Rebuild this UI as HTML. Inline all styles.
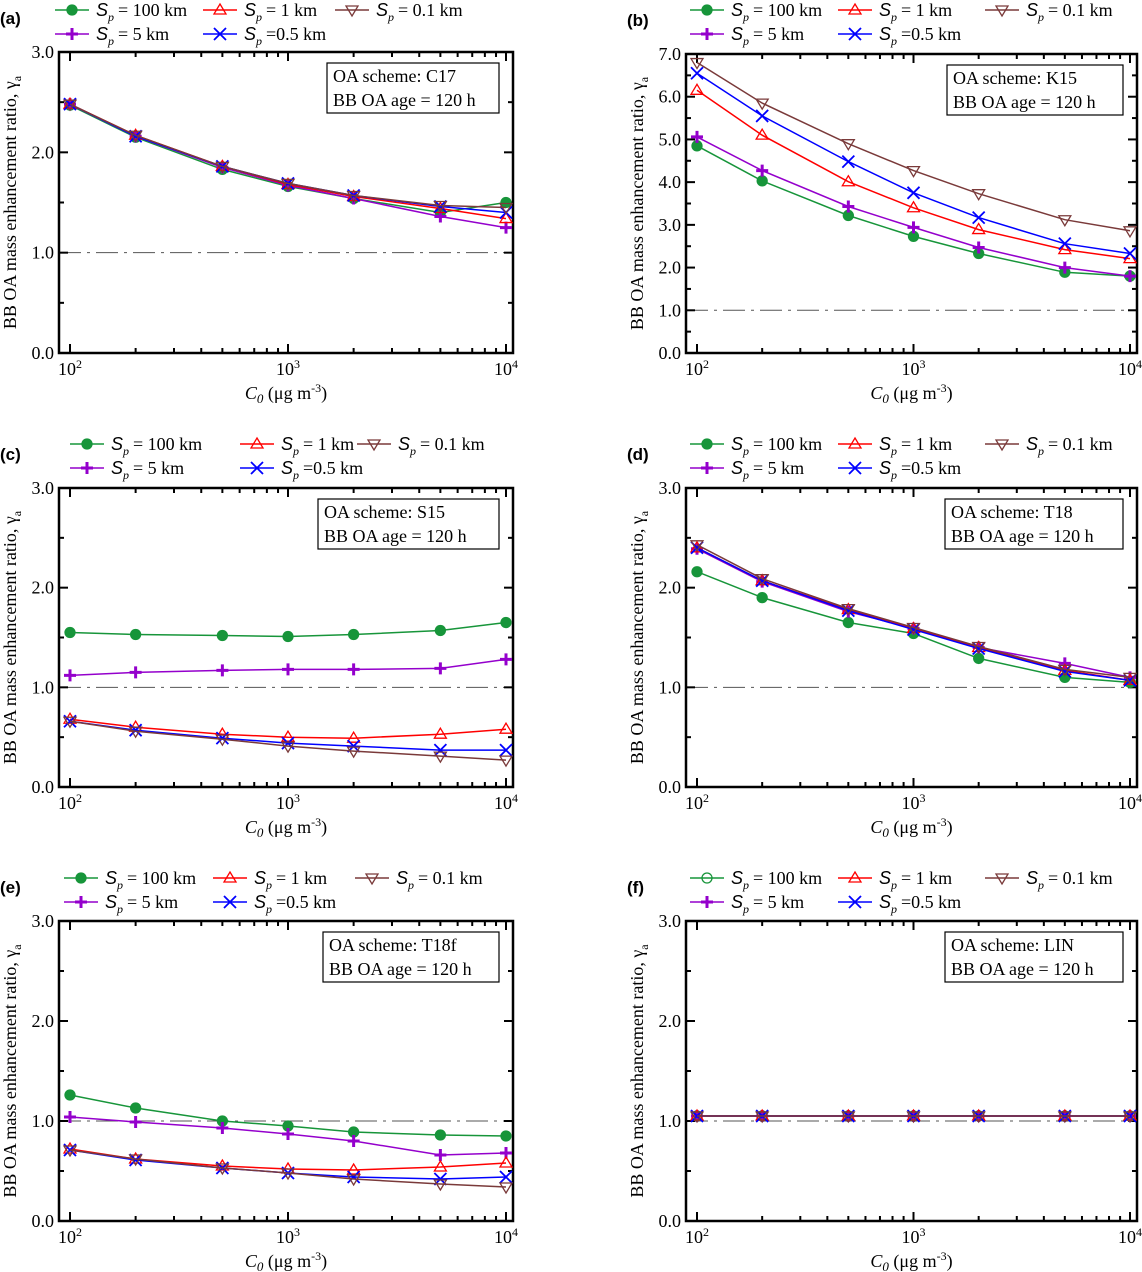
<!DOCTYPE html>
<html><head><meta charset="utf-8">
<style>
body{margin:0;background:#fff;}
svg{display:block;font-family:"Liberation Serif",serif;}
.pl{font-family:"Liberation Sans",sans-serif;font-weight:bold;font-size:17px;}
</style></head>
<body>
<svg id="chart" width="1142" height="1272" viewBox="0 0 1142 1272" xmlns="http://www.w3.org/2000/svg"></svg>
<script>
const xValues=[100,200,500,1000,2000,5000,10000];
const seriesNames=["Sp100","Sp5","Sp1","Sp05","Sp01"];
const aS100=[2.47,2.15,1.83,1.66,1.54,1.40,1.50];
const aS5=[2.48,2.16,1.85,1.67,1.54,1.36,1.25];
const aS1=[2.48,2.17,1.86,1.68,1.56,1.44,1.34];
const aS05=[2.48,2.16,1.86,1.69,1.57,1.46,1.40];
const aS01=[2.48,2.17,1.86,1.69,1.57,1.47,1.45];
const bS100=[4.85,4.03,3.22,2.73,2.33,1.89,1.80];
const bS5=[5.06,4.27,3.43,2.94,2.47,2.00,1.80];
const bS1=[6.15,5.10,4.01,3.40,2.89,2.42,2.21];
const bS05=[6.55,5.55,4.48,3.75,3.17,2.56,2.33];
const bS01=[6.80,5.85,4.90,4.27,3.73,3.12,2.86];
const cS100=[1.55,1.53,1.52,1.51,1.53,1.57,1.65];
const cS5=[1.12,1.15,1.17,1.18,1.18,1.19,1.28];
const cS1=[0.68,0.60,0.53,0.50,0.49,0.53,0.58];
const cS05=[0.66,0.57,0.49,0.44,0.41,0.37,0.37];
const cS01=[0.66,0.56,0.48,0.41,0.36,0.31,0.27];
const dS100=[2.16,1.90,1.65,1.54,1.29,1.10,1.05];
const dS5=[2.39,2.06,1.76,1.59,1.40,1.24,1.10];
const dS1=[2.40,2.07,1.78,1.59,1.40,1.17,1.07];
const dS05=[2.40,2.07,1.77,1.58,1.39,1.16,1.07];
const dS01=[2.43,2.09,1.79,1.60,1.41,1.18,1.10];
const eS100=[1.26,1.13,1.00,0.95,0.89,0.86,0.85];
const eS5=[1.04,0.99,0.93,0.87,0.80,0.66,0.68];
const eS1=[0.72,0.62,0.55,0.52,0.51,0.54,0.58];
const eS05=[0.71,0.61,0.53,0.48,0.44,0.42,0.44];
const eS01=[0.71,0.62,0.53,0.48,0.42,0.37,0.34];
const fS100=[1.05,1.05,1.05,1.05,1.05,1.05,1.05];
const fS5=[1.05,1.05,1.05,1.05,1.05,1.05,1.05];
const fS1=[1.05,1.05,1.05,1.05,1.05,1.05,1.05];
const fS05=[1.05,1.05,1.05,1.05,1.05,1.05,1.05];
const fS01=[1.05,1.05,1.05,1.05,1.05,1.05,1.05];
const xTickLabels=["2","3","4"];
const schemes=["C17","K15","S15","T18","T18f","LIN"];

const NS="http://www.w3.org/2000/svg";
const svg=document.getElementById('chart');
function el(tag,attrs,parent){const e=document.createElementNS(NS,tag);for(const k in attrs)e.setAttribute(k,attrs[k]);(parent||svg).appendChild(e);return e;}
const colors=["#17953a","#9400cc","#ff0000","#0000ff","#7a3a3a"];
const labels=["= 100 km","= 5 km","= 1 km","=0.5 km","= 0.1 km"];

function marker(g,type,x,y,c,open){
  if(type===0){el('circle',{cx:x,cy:y,r:5,fill:open?'none':c,stroke:c,'stroke-width':1.3},g);}
  else if(type===1){el('path',{d:`M${x-6},${y}H${x+6}M${x},${y-6}V${y+6}`,stroke:c,'stroke-width':3,fill:'none'},g);}
  else if(type===2){el('path',{d:`M${x},${y-6}L${x+6},${y+4}L${x-6},${y+4}Z`,stroke:c,'stroke-width':1.3,fill:'none'},g);}
  else if(type===3){el('path',{d:`M${x-6},${y-6}L${x+6},${y+6}M${x+6},${y-6}L${x-6},${y+6}`,stroke:c,'stroke-width':1.8,fill:'none'},g);}
  else {el('path',{d:`M${x},${y+6}L${x+6},${y-4}L${x-6},${y-4}Z`,stroke:c,'stroke-width':1.3,fill:'none'},g);}
}

function panel(p){
  const g=el('g',{});
  
  
  const L=p.L,R=p.R,T=p.T,B=p.B;
  const x0=L+11,x1=R-7;
  const xs=v=>x0+(Math.log10(v)-2)/2*(x1-x0);
  const ys=v=>B-v/p.ymax*(B-T);
  const pl=el('text',{x:p.L-59,y:p.T-28,class:'pl'},g);pl.textContent='('+p.id+')';
  
  
  const lg=el('g',{},g);
  
  
  const pos=[[0,0],[0,1],[1,0],[1,1],[2,0]];
  const colX=p.cols;
  for(let i=0;i<5;i++){
    const lx=p.lx+colX[pos[i][0]],ly=p.ly+pos[i][1]*24;
    const eg=el('g',{},lg);
    
    
    el('line',{x1:lx,y1:ly,x2:lx+34,y2:ly,stroke:colors[i],'stroke-width':1.5},eg);
    marker(eg,i,lx+17,ly,colors[i],p.id==='f'&&i===0);
    const t=el('text',{x:lx+41,y:ly+6,'font-size':18},eg);
    t.innerHTML='<tspan font-style="italic" font-family="Liberation Sans,sans-serif">S</tspan><tspan font-style="italic" font-size="12" dy="5">p</tspan><tspan dy="-5" dx="4">'+labels[i]+'</tspan>';
  }
  const rl=el('line',{x1:L,x2:R,y1:ys(1),y2:ys(1),stroke:'#555','stroke-width':1,'stroke-dasharray':'22,6,3,6'},g);
  
  
  for(let v=0;v<=p.ymax+1e-9;v+=p.minor){
    const y=ys(v);const maj=Math.abs(v/p.major-Math.round(v/p.major))<1e-6;const len=maj?9:5;
    el('line',{x1:L,x2:L+len,y1:y,y2:y,stroke:'#000','stroke-width':2},g);
    el('line',{x1:R,x2:R-len,y1:y,y2:y,stroke:'#000','stroke-width':2},g);
    if(maj){const t=el('text',{x:L-5,y:y+6,'text-anchor':'end','font-size':18},g);t.textContent=v.toFixed(1);
      
      }
  }
  for(let d=2;d<=4;d++){for(let m=1;m<=9;m++){
    const v=m*Math.pow(10,d);if(v>10000)break;const x=xs(v);const len=m===1?9:5;
    el('line',{x1:x,x2:x,y1:B,y2:B-len,stroke:'#000','stroke-width':2},g);
    el('line',{x1:x,x2:x,y1:T,y2:T+len,stroke:'#000','stroke-width':2},g);
    if(m===1){const t=el('text',{x:x,y:B+22,'text-anchor':'middle','font-size':18},g);t.innerHTML='10<tspan font-size="12" dy="-7">'+xTickLabels[d-2]+'</tspan>';
      
      }
  }}
  const fr=el('rect',{x:L,y:T,width:R-L,height:B-T,fill:'none',stroke:'#000','stroke-width':2.5},g);
  
  
  const xt=el('text',{x:(L+R)/2,y:B+46,'text-anchor':'middle','font-size':18},g);
  xt.innerHTML='<tspan font-style="italic">C<tspan font-size="13" dy="4">0</tspan></tspan><tspan dy="-4"> (μg m</tspan><tspan font-size="12" dy="-7">-3</tspan><tspan dy="7">)</tspan>';
  
  
  const yt=el('text',{transform:`translate(${L-43},${(T+B)/2}) rotate(-90)`,'text-anchor':'middle','font-size':18},g);
  yt.innerHTML='BB OA mass enhancement ratio, γ<tspan font-size="12" dy="5">a</tspan>';
  
  
  const ib=el('g',{},g);
  
  
  el('rect',{x:p.bx,y:T+11,width:R-p.bx-14,height:50,fill:'#fff',stroke:'#000','stroke-width':1.2},ib);
  const t1=el('text',{x:p.bx+6,y:T+30,'font-size':18},ib);t1.textContent='OA scheme: '+p.scheme;
  const t2=el('text',{x:p.bx+6,y:T+54,'font-size':18},ib);t2.textContent='BB OA age = 120 h';
  p.series.forEach((s,i)=>{
    const sg=el('g',{},g);
    
    
    const d=s.map((v,j)=>(j?'L':'M')+xs(xValues[j]).toFixed(1)+','+ys(v).toFixed(1)).join('');
    el('path',{d:d,fill:'none',stroke:colors[i],'stroke-width':1.5},sg);
    s.forEach((v,j)=>marker(sg,i,xs(xValues[j]),ys(v),colors[i],p.id==='f'&&i===0));
  });
}
panel({id:'a',L:59,R:513,T:52,B:353,ymax:3,major:1,minor:0.5,lx:55,ly:10,cols:[0,148,280],bx:327,scheme:schemes[0],series:[aS100,aS5,aS1,aS05,aS01]});
panel({id:'b',L:686,R:1137,T:54,B:353,ymax:7,major:1,minor:0.5,lx:690,ly:10,cols:[0,148,295],bx:947,scheme:schemes[1],series:[bS100,bS5,bS1,bS05,bS01]});
panel({id:'c',L:59,R:513,T:488,B:787,ymax:3,major:1,minor:0.5,lx:70,ly:444,cols:[0,170,287],bx:318,scheme:schemes[2],series:[cS100,cS5,cS1,cS05,cS01]});
panel({id:'d',L:686,R:1137,T:488,B:787,ymax:3,major:1,minor:0.5,lx:690,ly:444,cols:[0,148,295],bx:945,scheme:schemes[3],series:[dS100,dS5,dS1,dS05,dS01]});
panel({id:'e',L:59,R:513,T:921,B:1221,ymax:3,major:1,minor:0.5,lx:64,ly:878,cols:[0,149,291],bx:323,scheme:schemes[4],series:[eS100,eS5,eS1,eS05,eS01]});
panel({id:'f',L:686,R:1137,T:921,B:1221,ymax:3,major:1,minor:0.5,lx:690,ly:878,cols:[0,148,295],bx:945,scheme:schemes[5],series:[fS100,fS5,fS1,fS05,fS01]});
</script>
</body></html>
